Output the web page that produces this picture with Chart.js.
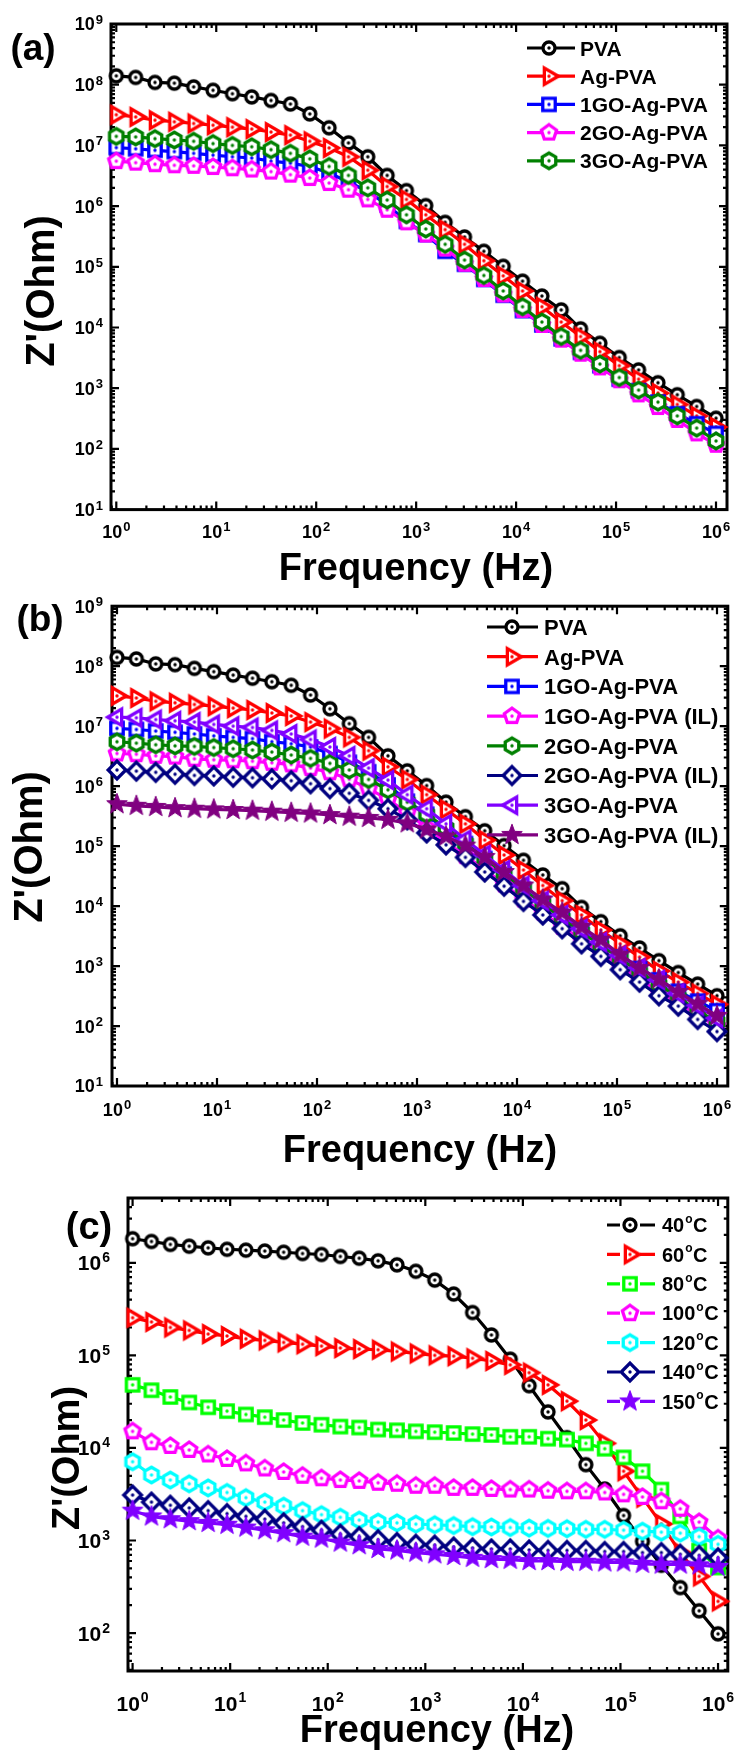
<!DOCTYPE html>
<html>
<head>
<meta charset="utf-8">
<script src="https://cdn.jsdelivr.net/npm/chart.js@4.4.1/dist/chart.umd.min.js"></script>
<style>
body { margin: 0; background: #fff; width: 739px; height: 1751px; position: relative; overflow: hidden; }
canvas { position: absolute; left: 0; }
</style>
</head>
<body>
<canvas id="grafA" width="739" height="595" style="top:0px;width:739px;height:595px"></canvas>
<canvas id="grafB" width="739" height="575" style="top:595px;width:739px;height:575px"></canvas>
<canvas id="grafC" width="739" height="581" style="top:1170px;width:739px;height:581px"></canvas>
<script>
//---------------------------------------------------------------------------
//                         DADOS

// frequência (Hz), mesma para os três painéis
const freq = [1, 1.561, 2.438, 3.807, 5.946, 9.284, 14.5, 22.63, 35.35, 55.2, 86.2, 134.6, 210.2, 328.2, 512.4, 800,
    1249, 1951, 3047, 4757, 7429, 11600, 18110, 28280, 44160, 68950, 107700, 168100, 262500, 410000, 640300, 1000000];

// Z' (Ohm) - painéis (a) e (b)
const zPVA = [1.40e8, 1.32e8, 1.09e8, 1.06e8, 9.2e7, 8.1e7, 7.1e7, 6.3e7, 5.5e7, 4.8e7, 3.3e7, 1.95e7, 1.1e7, 6.5e6, 3.2e6, 1.8e6,
    1.02e6, 5.4e5, 3.1e5, 1.8e5, 1.02e5, 5.8e4, 3.3e4, 1.95e4, 9.5e3, 5.5e3, 3.2e3, 2.0e3, 1.23e3, 7.8e2, 5.0e2, 3.2e2];
const zAg = [3.2e7, 2.95e7, 2.6e7, 2.45e7, 2.3e7, 2.15e7, 2.0e7, 1.86e7, 1.66e7, 1.48e7, 1.17e7, 9.1e6, 6.5e6, 3.9e6, 2.1e6, 1.29e6,
    7.2e5, 4.1e5, 2.35e5, 1.26e5, 7.1e4, 4.0e4, 2.2e4, 1.23e4, 7.1e3, 4.0e3, 2.35e3, 1.41e3, 8.3e2, 5.4e2, 3.5e2, 2.3e2];
const z1GO = [9.2e6, 8.8e6, 8.3e6, 7.9e6, 7.4e6, 6.9e6, 6.5e6, 6.2e6, 5.5e6, 5.1e6, 4.5e6, 3.5e6, 2.5e6, 1.74e6, 1.05e6, 5.6e5,
    3.4e5, 1.8e5, 1.1e5, 6.2e4, 3.4e4, 1.9e4, 1.1e4, 6.5e3, 3.9e3, 2.35e3, 1.41e3, 9.1e2, 5.9e2, 3.8e2, 2.6e2, 1.8e2];
const z2GO = [5.5e6, 5.2e6, 4.9e6, 4.7e6, 4.6e6, 4.4e6, 4.2e6, 4.0e6, 3.7e6, 3.3e6, 2.9e6, 2.4e6, 1.86e6, 1.29e6, 8.7e5, 5.4e5,
    3.4e5, 2.0e5, 1.12e5, 6.3e4, 3.5e4, 1.95e4, 1.1e4, 6.3e3, 3.7e3, 2.2e3, 1.35e3, 7.9e2, 4.9e2, 3.0e2, 1.8e2, 1.17e2];
const z3GO = [1.41e7, 1.38e7, 1.29e7, 1.23e7, 1.17e7, 1.07e7, 1.0e7, 9.5e6, 8.5e6, 7.4e6, 6.0e6, 4.5e6, 3.2e6, 2.0e6, 1.26e6, 7.2e5,
    4.2e5, 2.35e5, 1.29e5, 7.2e4, 4.0e4, 2.2e4, 1.23e4, 7.1e3, 4.2e3, 2.5e3, 1.5e3, 9.3e2, 5.9e2, 3.5e2, 2.2e2, 1.35e2];
const z1GOIL = [3.5e6, 3.4e6, 3.2e6, 3.1e6, 2.85e6, 2.75e6, 2.7e6, 2.6e6, 2.45e6, 2.3e6, 2.0e6, 1.7e6, 1.3e6, 9.1e5, 6.0e5, 3.6e5,
    2.0e5, 1.17e5, 6.8e4, 4.1e4, 2.3e4, 1.29e4, 7.8e3, 4.5e3, 2.75e3, 1.66e3, 1.0e3, 6.2e2, 3.7e2, 2.45e2, 1.5e2, 1.0e2];
const z2GOIL = [1.86e6, 1.78e6, 1.7e6, 1.58e6, 1.51e6, 1.48e6, 1.41e6, 1.38e6, 1.32e6, 1.23e6, 1.1e6, 9.1e5, 7.6e5, 5.8e5, 4.2e5, 2.75e5,
    1.66e5, 1.05e5, 6.5e4, 3.7e4, 2.15e4, 1.2e4, 7.1e3, 4.2e3, 2.35e3, 1.45e3, 8.7e2, 5.4e2, 3.2e2, 2.15e2, 1.29e2, 8.1e1];
const z3GOIL = [5.0e5, 4.7e5, 4.5e5, 4.3e5, 4.2e5, 4.1e5, 4.0e5, 3.9e5, 3.75e5, 3.6e5, 3.5e5, 3.3e5, 3.1e5, 2.95e5, 2.75e5, 2.4e5,
    1.9e5, 1.45e5, 1.02e5, 6.6e4, 3.7e4, 2.2e4, 1.29e4, 7.8e3, 4.5e3, 2.75e3, 1.55e3, 9.3e2, 6.0e2, 3.7e2, 2.35e2, 1.48e2];

// Z' (Ohm) - painel (c), temperaturas
const z40 = [1.82e6, 1.70e6, 1.58e6, 1.51e6, 1.45e6, 1.40e6, 1.37e6, 1.34e6, 1.30e6, 1.26e6, 1.23e6, 1.17e6, 1.12e6, 1.05e6, 9.5e5, 8.1e5,
    6.5e5, 4.6e5, 2.9e5, 1.66e5, 9.1e4, 4.7e4, 2.45e4, 1.29e4, 6.6e3, 3.6e3, 1.86e3, 9.8e2, 5.4e2, 3.1e2, 1.74e2, 9.8e1];
const z60 = [2.55e5, 2.3e5, 2.0e5, 1.86e5, 1.7e5, 1.62e5, 1.51e5, 1.45e5, 1.38e5, 1.32e5, 1.26e5, 1.2e5, 1.17e5, 1.15e5, 1.1e5, 1.05e5,
    1.0e5, 9.8e4, 9.3e4, 8.7e4, 7.9e4, 6.5e4, 4.8e4, 3.2e4, 2.0e4, 1.12e4, 5.6e3, 2.9e3, 1.51e3, 7.4e2, 4.1e2, 2.2e2];
const z80 = [4.8e4, 4.2e4, 3.55e4, 3.1e4, 2.75e4, 2.5e4, 2.3e4, 2.15e4, 2.0e4, 1.86e4, 1.78e4, 1.7e4, 1.66e4, 1.58e4, 1.55e4, 1.51e4,
    1.48e4, 1.45e4, 1.41e4, 1.38e4, 1.32e4, 1.32e4, 1.26e4, 1.23e4, 1.12e4, 9.8e3, 7.9e3, 5.6e3, 3.55e3, 1.82e3, 7.8e2, 5.1e2];
const z100 = [1.51e4, 1.15e4, 1.05e4, 9.5e3, 8.5e3, 7.6e3, 6.8e3, 6.0e3, 5.5e3, 5.0e3, 4.7e3, 4.5e3, 4.4e3, 4.2e3, 4.1e3, 3.9e3,
    3.9e3, 3.7e3, 3.7e3, 3.6e3, 3.55e3, 3.55e3, 3.45e3, 3.4e3, 3.4e3, 3.3e3, 3.15e3, 2.95e3, 2.65e3, 2.2e3, 1.58e3, 1.05e3];
const z120 = [7.1e3, 5.1e3, 4.5e3, 4.1e3, 3.7e3, 3.3e3, 2.9e3, 2.6e3, 2.35e3, 2.1e3, 1.9e3, 1.78e3, 1.66e3, 1.58e3, 1.55e3, 1.5e3,
    1.48e3, 1.45e3, 1.41e3, 1.4e3, 1.38e3, 1.36e3, 1.35e3, 1.34e3, 1.32e3, 1.32e3, 1.29e3, 1.26e3, 1.23e3, 1.2e3, 1.1e3, 9.1e2];
const z140 = [3.1e3, 2.6e3, 2.4e3, 2.25e3, 2.1e3, 1.95e3, 1.82e3, 1.7e3, 1.55e3, 1.41e3, 1.29e3, 1.17e3, 1.1e3, 1.02e3, 9.5e2, 9.1e2,
    8.9e2, 8.5e2, 8.3e2, 8.1e2, 8.1e2, 7.9e2, 7.8e2, 7.8e2, 7.8e2, 7.6e2, 7.6e2, 7.4e2, 7.4e2, 7.1e2, 6.9e2, 6.5e2];
const z150 = [2.1e3, 1.82e3, 1.7e3, 1.62e3, 1.55e3, 1.48e3, 1.38e3, 1.29e3, 1.2e3, 1.1e3, 1.05e3, 9.5e2, 8.9e2, 8.1e2, 7.8e2, 7.4e2,
    7.1e2, 6.8e2, 6.5e2, 6.3e2, 6.2e2, 6.0e2, 6.0e2, 5.9e2, 5.9e2, 5.8e2, 5.8e2, 5.6e2, 5.5e2, 5.5e2, 5.4e2, 5.2e2];

// legendas
const labelsA = ['PVA', 'Ag-PVA', '1GO-Ag-PVA', '2GO-Ag-PVA', '3GO-Ag-PVA'];
const labelsB = ['PVA', 'Ag-PVA', '1GO-Ag-PVA', '1GO-Ag-PVA (IL)', '2GO-Ag-PVA', '2GO-Ag-PVA (IL)', '3GO-Ag-PVA', '3GO-Ag-PVA (IL)'];
const labelsC = ['40°C', '60°C', '80°C', '100°C', '120°C', '140°C', '150°C'];

// expoentes dos rótulos dos eixos (10^n)
const xExp = [0, 1, 2, 3, 4, 5, 6];
const yExpAB = [1, 2, 3, 4, 5, 6, 7, 8, 9];
const yExpC = [2, 3, 4, 5, 6];

//---------------------------------------------------------------------------
//                         SÍMBOLOS

function poly(g, n, R, a0) {
    for (let k = 0; k < n; k++) {
        const a = a0 + k * 2 * Math.PI / n;
        if (k === 0) g.moveTo(R * Math.cos(a), R * Math.sin(a));
        else g.lineTo(R * Math.cos(a), R * Math.sin(a));
    }
}

function simbolo(forma, cor) {
    const s = 32;
    const c = document.createElement('canvas');
    c.width = s; c.height = s;
    const g = c.getContext('2d');
    g.translate(s / 2, s / 2);
    g.lineWidth = 3.3;
    g.lineJoin = 'miter';
    g.strokeStyle = cor;
    g.fillStyle = '#fff';
    g.beginPath();
    if (forma === 'circle') g.arc(0, 0, 6, 0, 2 * Math.PI);
    if (forma === 'triR') poly(g, 3, 9.3, 0);
    if (forma === 'triL') poly(g, 3, 9.3, Math.PI);
    if (forma === 'square') poly(g, 4, 8.8, Math.PI / 4);
    if (forma === 'diamond') poly(g, 4, 8.8, -Math.PI / 2);
    if (forma === 'pent') poly(g, 5, 8, -Math.PI / 2);
    if (forma === 'hex') poly(g, 6, 7.8, -Math.PI / 2);
    if (forma === 'star') {
        for (let k = 0; k < 10; k++) {
            const a = -Math.PI / 2 + k * Math.PI / 5;
            const R = k % 2 === 0 ? 10.8 : 4.5;
            if (k === 0) g.moveTo(R * Math.cos(a), R * Math.sin(a));
            else g.lineTo(R * Math.cos(a), R * Math.sin(a));
        }
    }
    g.closePath();
    if (forma === 'star') {
        g.fillStyle = cor;
        g.lineWidth = 1;
        g.fill();
        g.stroke();
    } else {
        g.fill();
        g.stroke();
        g.beginPath();
        g.fillStyle = cor;
        g.arc(0, 0, 1.7, 0, 2 * Math.PI);
        g.fill();
    }
    return c;
}

//---------------------------------------------------------------------------
//                         PAINÉIS

const FONTE = '"Liberation Sans", Arial, Helvetica, sans-serif';

const paineis = [
    {
        id: 'grafA', letra: '(a)', labels: labelsA,
        series: [zPVA, zAg, z1GO, z2GO, z3GO],
        cores: ['#000000', '#ff0000', '#0000ff', '#ff00ff', '#008000'],
        formas: ['circle', 'triR', 'square', 'pent', 'hex'],
        yExp: yExpAB,
        xMin: Math.pow(10, -0.053), xMax: Math.pow(10, 6.11), yMin: 10, yMax: 1e9,
        area: { left: 111, right: 727, top: 24, bottom: 509.6, w: 739, h: 595 },
        tick: { fs: 18, ss: 13, xBase: 538, yRight: 103 },
        titulo: { fs: 38, xBase: 580, xCx: 416, yCx: 43, yCy: 291, yFs: 40 },
        letraPos: { x: 33, y: 50, fs: 37 },
        leg: { x0: 527, x1: 575, xm: 549, xt: 580, y0: 48, dy: 28.2, fs: 21, gap: false }
    },
    {
        id: 'grafB', letra: '(b)', labels: labelsB,
        series: [zPVA, zAg, z1GO, z1GOIL, z2GO, z2GOIL, z3GO, z3GOIL],
        cores: ['#000000', '#ff0000', '#0000ff', '#ff00ff', '#008000', '#000080', '#8000ff', '#800080'],
        formas: ['circle', 'triR', 'square', 'pent', 'hex', 'diamond', 'triL', 'star'],
        yExp: yExpAB,
        xMin: Math.pow(10, -0.05), xMax: Math.pow(10, 6.108), yMin: 10, yMax: 1e9,
        area: { left: 112, right: 733.6, top: 10.5, bottom: 491, w: 739, h: 575 },
        tick: { fs: 18, ss: 13, xBase: 521, yRight: 103 },
        titulo: { fs: 38, xBase: 567, xCx: 420, yCx: 31, yCy: 252, yFs: 40 },
        letraPos: { x: 40, y: 26, fs: 37 },
        leg: { x0: 487, x1: 538, xm: 512, xt: 544, y0: 32, dy: 29.7, fs: 22, gap: false }
    },
    {
        id: 'grafC', letra: '(c)', labels: labelsC,
        series: [z40, z60, z80, z100, z120, z140, z150],
        cores: ['#000000', '#ff0000', '#00ff00', '#ff00ff', '#00ffff', '#000080', '#8000ff'],
        formas: ['circle', 'triR', 'square', 'pent', 'hex', 'diamond', 'star'],
        yExp: yExpC,
        xMin: Math.pow(10, -0.047), xMax: Math.pow(10, 6.10), yMin: Math.pow(10, 1.59), yMax: Math.pow(10, 6.70),
        area: { left: 128, right: 737.4, top: 28, bottom: 501, w: 739, h: 581 },
        tick: { fs: 21, ss: 14, xBase: 540.5, yRight: 110 },
        titulo: { fs: 38, xBase: 572, xCx: 437, yCx: 69, yCy: 288, yFs: 38 },
        letraPos: { x: 89, y: 59, fs: 38 },
        leg: { x0: 607, x1: 655, xm: 630, xt: 662, y0: 55, dy: 29.4, fs: 20, gap: true }
    }
];

// escreve 10^n
function potencia(ctx, x, y, n, fs, ss, alinha) {
    ctx.font = 'bold ' + fs + 'px ' + FONTE;
    const w1 = ctx.measureText('10').width;
    ctx.font = 'bold ' + ss + 'px ' + FONTE;
    const w2 = ctx.measureText(String(n)).width;
    const x0 = alinha === 'right' ? x - w1 - w2 - 1 : x - (w1 + w2 + 1) / 2;
    const base = y + 0.36 * fs;
    ctx.textAlign = 'left';
    ctx.textBaseline = 'alphabetic';
    ctx.font = 'bold ' + fs + 'px ' + FONTE;
    ctx.fillText('10', x0, base);
    ctx.font = 'bold ' + ss + 'px ' + FONTE;
    ctx.fillText(String(n), x0 + w1 + 1, base - 0.716 * fs - 3 + 0.716 * ss);
}

function ticksLog(min, max) {
    const major = [], minor = [];
    for (let e = Math.floor(Math.log10(min)); e <= Math.ceil(Math.log10(max)); e++) {
        for (let m = 1; m < 10; m++) {
            const v = m * Math.pow(10, e);
            if (v < min || v > max) continue;
            if (m === 1) major.push(v); else minor.push(v);
        }
    }
    return { major, minor };
}

const moldura = {
    id: 'moldura',
    beforeDatasetsDraw(chart, args, p) {
        const ctx = chart.ctx, a = chart.chartArea;
        const sx = chart.scales.x, sy = chart.scales.y;
        ctx.save();
        ctx.strokeStyle = '#000';
        ctx.lineCap = 'butt';
        ctx.lineWidth = 2.2;
        const tx = ticksLog(sx.min, sx.max), ty = ticksLog(sy.min, sy.max);
        [[tx.major, 8], [tx.minor, 4]].forEach(([vals, len]) => {
            vals.forEach(v => {
                const px = sx.getPixelForValue(v);
                ctx.beginPath();
                ctx.moveTo(px, a.bottom); ctx.lineTo(px, a.bottom - len);
                ctx.moveTo(px, a.top); ctx.lineTo(px, a.top + len);
                ctx.stroke();
            });
        });
        [[ty.major, 8], [ty.minor, 4]].forEach(([vals, len]) => {
            vals.forEach(v => {
                const py = sy.getPixelForValue(v);
                ctx.beginPath();
                ctx.moveTo(a.left, py); ctx.lineTo(a.left + len, py);
                ctx.moveTo(a.right, py); ctx.lineTo(a.right - len, py);
                ctx.stroke();
            });
        });
        ctx.lineWidth = 3;
        ctx.strokeRect(a.left, a.top, a.right - a.left, a.bottom - a.top);
        ctx.restore();
    },
    afterDraw(chart, args, p) {
        const ctx = chart.ctx;
        const sx = chart.scales.x, sy = chart.scales.y;
        const P = p.painel;
        ctx.save();
        ctx.fillStyle = '#000';
        // rótulos dos eixos
        xExp.forEach(n => potencia(ctx, sx.getPixelForValue(Math.pow(10, n)), P.tick.xBase - 0.36 * P.tick.fs, n, P.tick.fs, P.tick.ss, 'center'));
        P.yExp.forEach(n => potencia(ctx, P.tick.yRight, sy.getPixelForValue(Math.pow(10, n)), n, P.tick.fs, P.tick.ss, 'right'));
        // títulos
        ctx.textAlign = 'center';
        ctx.textBaseline = 'alphabetic';
        ctx.font = 'bold ' + P.titulo.fs + 'px ' + FONTE;
        ctx.fillText('Frequency (Hz)', P.titulo.xCx, P.titulo.xBase);
        ctx.save();
        ctx.translate(P.titulo.yCx, P.titulo.yCy);
        ctx.rotate(-Math.PI / 2);
        ctx.textBaseline = 'middle';
        ctx.font = 'bold ' + P.titulo.yFs + 'px ' + FONTE;
        ctx.fillText("Z'(Ohm)", 0, 0);
        ctx.restore();
        ctx.textBaseline = 'middle';
        ctx.font = 'bold ' + P.letraPos.fs + 'px ' + FONTE;
        ctx.fillText(P.letra, P.letraPos.x, P.letraPos.y);
        // legenda
        const L = P.leg;
        chart.data.datasets.forEach((ds, i) => {
            const y = L.y0 + i * L.dy;
            ctx.strokeStyle = ds.borderColor;
            ctx.lineWidth = 3.2;
            ctx.beginPath();
            if (L.gap) {
                ctx.moveTo(L.x0, y); ctx.lineTo(L.xm - 10, y);
                ctx.moveTo(L.xm + 10, y); ctx.lineTo(L.x1, y);
            } else {
                ctx.moveTo(L.x0, y); ctx.lineTo(L.x1, y);
            }
            ctx.stroke();
            const img = ds.pointStyle;
            ctx.drawImage(img, L.xm - img.width / 2, y - img.height / 2);
            ctx.fillStyle = '#000';
            ctx.textAlign = 'left';
            ctx.textBaseline = 'alphabetic';
            const base = y + 0.36 * L.fs;
            const partes = ds.label.split('°');
            ctx.font = 'bold ' + L.fs + 'px ' + FONTE;
            ctx.fillText(partes[0], L.xt, base);
            if (partes.length > 1) {
                let xx = L.xt + ctx.measureText(partes[0]).width + 1;
                ctx.font = 'bold ' + Math.round(L.fs * 0.62) + 'px ' + FONTE;
                ctx.fillText('o', xx, base - 0.716 * L.fs + 5);
                xx += ctx.measureText('o').width + 0.5;
                ctx.font = 'bold ' + L.fs + 'px ' + FONTE;
                ctx.fillText(partes[1], xx, base);
            }
        });
        ctx.restore();
    }
};

function grafico(P) {
    const n = P.series.length;
    const datasets = P.series.map((serie, i) => ({
        label: P.labels[i],
        data: serie.map((v, k) => ({ x: freq[k], y: v })),
        borderColor: P.cores[i],
        borderWidth: 3.2,
        pointStyle: simbolo(P.formas[i], P.cores[i]),
        pointRadius: 8,
        tension: 0,
        clip: false,
        order: n - i
    }));
    const A = P.area;
    return new Chart(document.getElementById(P.id), {
        type: 'line',
        data: { datasets },
        options: {
            responsive: false,
            animation: false,
            events: [],
            layout: { padding: { left: 0, top: A.top, right: A.w - A.right, bottom: 0 } },
            plugins: {
                legend: { display: false },
                title: { display: false },
                tooltip: { enabled: false },
                moldura: { painel: P }
            },
            scales: {
                x: {
                    type: 'logarithmic', min: P.xMin, max: P.xMax, bounds: 'data',
                    grid: { display: false }, border: { display: false },
                    ticks: { display: false },
                    afterFit: s => { s.height = A.h - A.bottom; }
                },
                y: {
                    type: 'logarithmic', min: P.yMin, max: P.yMax, bounds: 'data',
                    grid: { display: false }, border: { display: false },
                    ticks: { display: false },
                    afterFit: s => { s.width = A.left; }
                }
            }
        },
        plugins: [moldura]
    });
}

paineis.forEach(grafico);
</script>
</body>
</html>
